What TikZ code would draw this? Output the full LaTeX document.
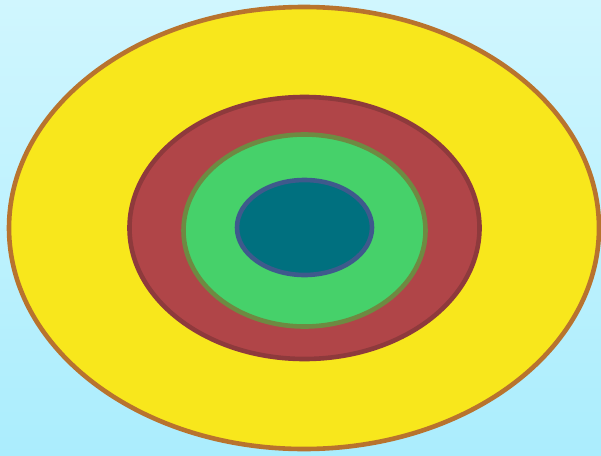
\documentclass[tikz,border=0pt]{standalone}
\definecolor{bgtop}{HTML}{D0F6FE}
\definecolor{bgbot}{HTML}{ABEDFD}
\definecolor{yel}{HTML}{F8E71C}
\definecolor{yelb}{HTML}{B8732E}
\definecolor{redf}{HTML}{B04548}
\definecolor{redb}{HTML}{8E3A3C}
\definecolor{grnf}{HTML}{46D16A}
\definecolor{grnb}{HTML}{6E8A42}
\definecolor{tealf}{HTML}{00707F}
\definecolor{tealb}{HTML}{3E5A8C}
\begin{document}
\begin{tikzpicture}[x=1pt,y=-1pt,
  ring/.style={line width=4.6pt}]
\useasboundingbox (0,0) rectangle (601,455);
\shade[top color=bgtop, bottom color=bgbot] (0,0) rectangle (601,455);
\draw[ring, fill=yel, draw=yelb] (304,228) ellipse [x radius=295, y radius=221];
\draw[ring, fill=redf, draw=redb] (304.5,228) ellipse [x radius=175, y radius=131];
\draw[ring, fill=grnf, draw=grnb] (304.5,230.5) ellipse [x radius=121, y radius=96];
\draw[ring, fill=tealf, draw=tealb] (304.5,227.5) ellipse [x radius=67.5, y radius=47.5];
\end{tikzpicture}
\end{document}
